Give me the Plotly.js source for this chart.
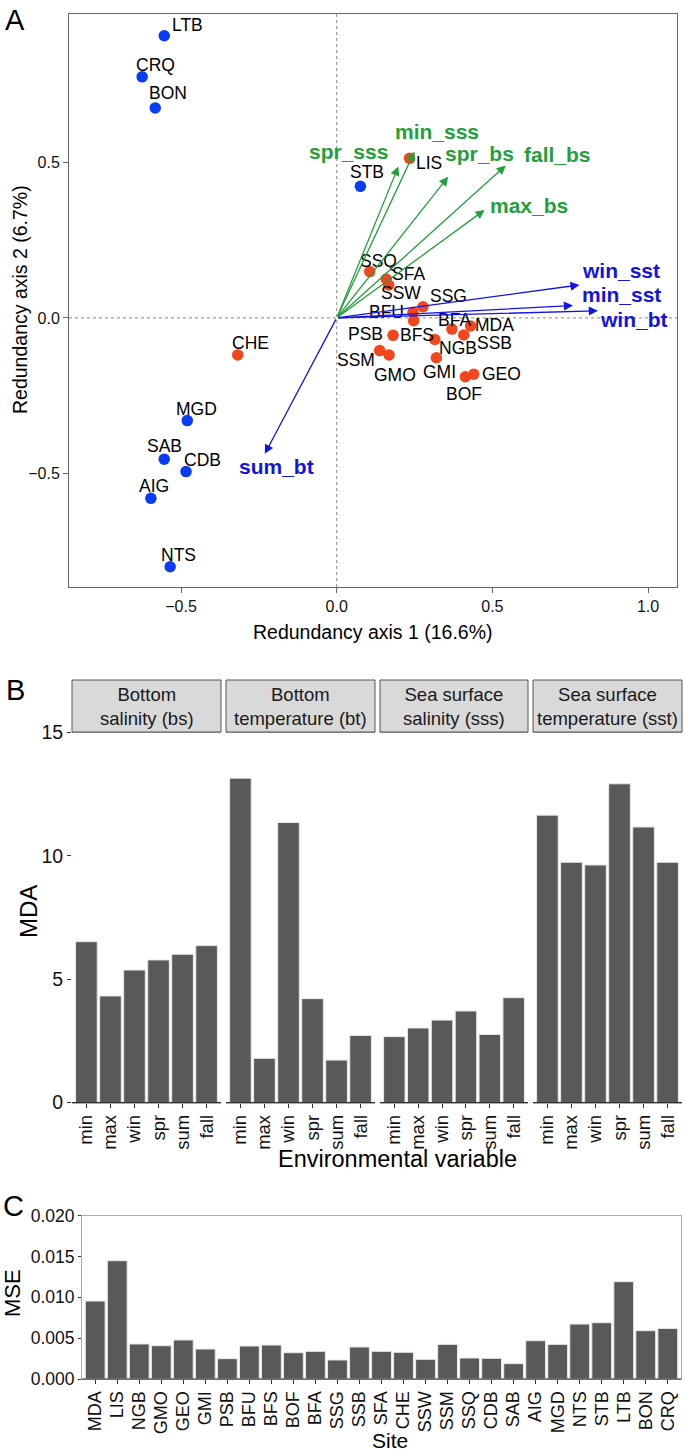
<!DOCTYPE html>
<html>
<head>
<meta charset="utf-8">
<script src="https://cdn.plot.ly/plotly-3.0.1.min.js"></script>
<style>html,body{margin:0;padding:0;background:#fff}#chart{width:685px;height:1454px}</style>
</head>
<body>
<div id="chart"></div>
<script>
// ---------- Panel A data (RDA site scores) ----------
const sites = ['LTB','CRQ','BON','STB','LIS','SSQ','SFA','SSW','SSG','BFU','BFS','BFA','MDA','SSB','PSB','NGB','SSM','GMO','GMI','BOF','GEO','CHE','MGD','SAB','CDB','AIG','NTS'];
const rda1 = [-0.554,-0.625,-0.583,0.076,0.234,0.106,0.159,0.167,0.277,0.245,0.247,0.370,0.430,0.408,0.181,0.315,0.138,0.168,0.320,0.413,0.440,-0.318,-0.480,-0.554,-0.484,-0.597,-0.535];
const rda2 = [0.907,0.775,0.675,0.423,0.513,0.149,0.125,0.106,0.036,0.018,-0.009,-0.036,-0.026,-0.055,-0.056,-0.069,-0.105,-0.119,-0.128,-0.189,-0.181,-0.119,-0.330,-0.454,-0.494,-0.580,-0.800];
const cluster = ['north','north','north','north','south','south','south','south','south','south','south','south','south','south','south','south','south','south','south','south','south','south','north','north','north','north','north'];

// environmental vectors
const envVars = ['spr_sss','min_sss','spr_bs','fall_bs','max_bs','win_sst','min_sst','win_bt','sum_bt'];
const envRDA1 = [0.198,0.250,0.358,0.543,0.475,0.780,0.759,0.839,-0.231];
const envRDA2 = [0.487,0.535,0.454,0.490,0.347,0.106,0.040,0.023,-0.437];
const envType = ['salinity','salinity','salinity','salinity','salinity','temperature','temperature','temperature','temperature'];

// ---------- Panel B data (MDA) ----------
const seasons = ['min','max','win','spr','sum','fall'];
const facetNames = ['Bottom<br>salinity (bs)','Bottom<br>temperature (bt)','Sea surface<br>salinity (sss)','Sea surface<br>temperature (sst)'];
const mdaBS  = [6.52,4.32,5.37,5.78,6.01,6.36];
const mdaBT  = [13.15,1.79,11.35,4.21,1.72,2.72];
const mdaSSS = [2.67,3.02,3.34,3.71,2.76,4.25];
const mdaSST = [11.65,9.74,9.63,12.92,11.17,9.74];

// ---------- Panel C data (MSE) ----------
const mseSites = ['MDA','LIS','NGB','GMO','GEO','GMI','PSB','BFU','BFS','BOF','BFA','SSG','SSB','SFA','CHE','SSW','SSM','SSQ','CDB','SAB','AIG','MGD','NTS','STB','LTB','BON','CRQ'];
const mse = [0.00955,0.01449,0.00429,0.00408,0.00478,0.00367,0.00249,0.00404,0.00416,0.00322,0.00339,0.00233,0.00392,0.00339,0.00327,0.00241,0.00424,0.00257,0.00253,0.00188,0.00469,0.00424,0.00673,0.00690,0.01192,0.00592,0.00620];

// ---------- styling / layout helpers ----------
const W = 685, H = 1454;
const px = v => v / W;
const py = v => 1 - v / H;
const FONT = 'Liberation Sans, Arial, Helvetica, sans-serif';
const RED = '#f2461f', BLUE = '#0a3cf5';
const GREEN_T = '#22a03c', BLUE_T = '#1414e0';

// label offsets (pixels) for site labels
const siteLabelShift = {
 LTB:[23,11], CRQ:[13,12], BON:[13,15], STB:[7,14], LIS:[19,-5], SSQ:[9,11], SFA:[22,5], SSW:[12,-8],
 SSG:[26,11], BFU:[-27,0], BFS:[3,-14], BFA:[3,9], MDA:[24,1], SSB:[31,-8], PSB:[-28,1], NGB:[23,-9],
 SSM:[-24,-9], GMO:[6,-20], GMI:[3,-14], BOF:[-1,-17], GEO:[28,0], CHE:[13,12], MGD:[9,12], SAB:[0,13],
 CDB:[16,12], AIG:[3,12], NTS:[8,12]
};
const envLabelShift = {
 spr_sss:[-50,15], min_sss:[22,20], spr_bs:[31,23], fall_bs:[52,11], max_bs:[44,4],
 win_sst:[41,14], min_sst:[48,11], win_bt:[36,-9], sum_bt:[12,-13]
};

const traces = [];
// Panel A points
['north','south'].forEach(g => {
  const idx = cluster.map((c,i)=>c===g?i:-1).filter(i=>i>=0);
  traces.push({
    type:'scatter', mode:'markers', xaxis:'x', yaxis:'y',
    x: idx.map(i=>rda1[i]), y: idx.map(i=>rda2[i]),
    marker:{size:11.5, color: g==='north'?BLUE:RED},
    hoverinfo:'skip', showlegend:false
  });
});

// Panel B bars
const mdaSets = [mdaBS, mdaBT, mdaSSS, mdaSST];
mdaSets.forEach((vals,k) => {
  traces.push({
    type:'bar', x: seasons, y: vals,
    xaxis: 'x' + (k+2), yaxis: 'y2',
    marker:{color:'#595959', line:{color:'#e8e8e8', width:1}},
    hoverinfo:'skip', showlegend:false
  });
});
// Panel C bars
traces.push({
  type:'bar', x: mseSites, y: mse, xaxis:'x6', yaxis:'y3',
  marker:{color:'#595959', line:{color:'#e8e8e8', width:1}},
  hoverinfo:'skip', showlegend:false
});

const annotations = [];
const shapes = [];

// Panel A: site labels
sites.forEach((s,i) => {
  const sh = siteLabelShift[s] || [0,12];
  annotations.push({
    xref:'x', yref:'y', x: rda1[i], y: rda2[i], text: s, showarrow:false,
    xshift: sh[0], yshift: sh[1], font:{family:FONT, size:17.5, color:'#000'}
  });
});
// Panel A: arrows + labels
envVars.forEach((v,i) => {
  const col = envType[i]==='salinity' ? '#22a03c' : '#1414e6';
  annotations.push({
    xref:'x', yref:'y', axref:'x', ayref:'y',
    x: envRDA1[i], y: envRDA2[i], ax: 0, ay: 0, text:'',
    showarrow:true, arrowhead:2, arrowsize:1.4, arrowwidth:1.3, arrowcolor: col, standoff:0
  });
  const sh = envLabelShift[v];
  annotations.push({
    xref:'x', yref:'y', x: envRDA1[i], y: envRDA2[i], text: v, showarrow:false,
    xshift: sh[0], yshift: sh[1],
    font:{family:FONT, size:21, color: envType[i]==='salinity' ? GREEN_T : BLUE_T, weight:'bold'}
  });
});
// Panel A dotted zero lines
shapes.push({type:'line', xref:'x', yref:'y domain', x0:0, x1:0, y0:0, y1:1, line:{color:'#888', width:1, dash:'dot'}, layer:'below'});
shapes.push({type:'line', xref:'x domain', yref:'y', x0:0, x1:1, y0:0, y1:0, line:{color:'#888', width:1, dash:'dot'}, layer:'below'});

// Axis titles and panel letters
function txt(x, y, text, size, angle, extra) {
  annotations.push(Object.assign({xref:'paper', yref:'paper', x:px(x), y:py(y), text, showarrow:false,
    textangle: angle||0, xanchor:'center', yanchor:'middle', font:{family:FONT, size, color:'#000'}}, extra||{}));
}
txt(15, 20, 'A', 29);
txt(15, 690, 'B', 29);
txt(13, 1206, 'C', 29);
txt(373, 632, 'Redundancy axis 1 (16.6%)', 19.5);
txt(20, 300, 'Redundancy axis 2 (6.7%)', 19.5, -90);
txt(28, 912, 'MDA', 24, -90);
txt(397, 1159, 'Environmental variable', 23.5);
txt(12, 1293, 'MSE', 22, -90);
txt(390, 1440, 'Site', 21);

// Panel B facets: strips, frames
const facetX = [[72,221],[226,375],[380,528],[533,682]];
facetX.forEach((fx,k) => {
  shapes.push({type:'rect', xref:'paper', yref:'paper', x0:px(fx[0]), x1:px(fx[1]), y0:py(732), y1:py(680),
    fillcolor:'#d9d9d9', line:{color:'#555', width:1}});
  annotations.push({xref:'paper', yref:'paper', x:(px(fx[0])+px(fx[1]))/2, y:(py(732)+py(680))/2,
    text: facetNames[k], showarrow:false, xanchor:'center', yanchor:'middle',
    font:{family:FONT, size:18.5, color:'#1a1a1a'}});
  // dark bottom axis line
  shapes.push({type:'line', xref:'paper', yref:'paper', x0:px(fx[0]), x1:px(fx[1]), y0:py(1102.5), y1:py(1102.5), line:{color:'#333', width:1.2}});
});
// Panel C dark bottom line
shapes.push({type:'line', xref:'paper', yref:'paper', x0:px(82), x1:px(681), y0:py(1379), y1:py(1379), line:{color:'#333', width:1.2}});

const layout = {
  width: W, height: H,
  margin:{l:0, r:0, t:0, b:0, pad:0},
  paper_bgcolor:'#fff', plot_bgcolor:'#fff',
  showlegend:false,
  bargap: 0.1,
  font:{family:FONT, color:'#000'},
  annotations, shapes,
  xaxis:{domain:[px(69), px(677)], anchor:'y', range:[-0.860, 1.093], tickvals:[-0.5,0,0.5,1.0], tickformat:'.1f',
    showgrid:false, zeroline:false, showline:true, mirror:true, linecolor:'#666', linewidth:1,
    ticks:'outside', ticklen:5, tickcolor:'#666', tickfont:{size:16, color:'#111'}},
  yaxis:{domain:[py(587), py(14)], anchor:'x', range:[-0.865, 0.977], tickvals:[-0.5,0,0.5], tickformat:'.1f',
    showgrid:false, zeroline:false, showline:true, mirror:true, linecolor:'#666', linewidth:1,
    ticks:'outside', ticklen:5, tickcolor:'#666', tickfont:{size:16, color:'#111'}},
  yaxis2:{domain:[py(1102.5), py(732.5)], anchor:'x2', range:[0,15], tickvals:[0,5,10,15],
    showgrid:false, zeroline:false, showline:false, ticks:'outside', ticklen:4, tickcolor:'#333',
    tickfont:{size:19.5, color:'#111'}},
  yaxis3:{domain:[py(1379), py(1215.7)], anchor:'x6', range:[0,0.02], tickvals:[0,0.005,0.01,0.015,0.02], tickformat:'.3f',
    showgrid:false, zeroline:false, showline:true, mirror:true, linecolor:'#aaa', linewidth:1,
    ticks:'outside', ticklen:3, tickcolor:'#333', tickfont:{size:17.5, color:'#111'}},
  xaxis6:{domain:[px(82), px(681)], anchor:'y3', type:'category', range:[-0.6, 26.6],
    showgrid:false, zeroline:false, showline:true, mirror:true, linecolor:'#aaa', linewidth:1,
    ticks:'outside', ticklen:4, tickcolor:'#333', tickangle:-90, tickfont:{size:18, color:'#111'}}
};
facetX.forEach((fx,k) => {
  layout['xaxis' + (k+2)] = {domain:[px(fx[0]), px(fx[1])], anchor:'y2', type:'category', range:[-0.6, 5.6],
    showgrid:false, zeroline:false, showline:true, mirror:true, linecolor:'#aaa', linewidth:1,
    ticks:'outside', ticklen:4, tickcolor:'#333', tickangle:-90, tickfont:{size:18.5, color:'#111'}};
});

Plotly.newPlot('chart', traces, layout, {staticPlot:true, displayModeBar:false});
</script>
</body>
</html>
